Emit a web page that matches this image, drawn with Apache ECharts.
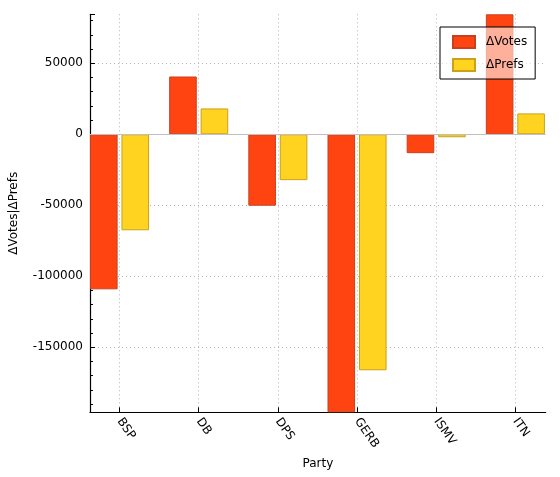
<!DOCTYPE html>
<html>
<head>
<meta charset="utf-8">
<script src="https://cdn.jsdelivr.net/npm/echarts@6/dist/echarts.min.js"></script>
<style>
    html, body { margin: 0; padding: 0; background: #fff; }
    #chart { width: 560px; height: 477px; }
</style>
</head>
<body>
<div id="chart"></div>
<script>
// parties on the x axis
const parties = ['BSP', 'DB', 'DPS', 'GERB', 'ISMV', 'ITN'];
// change in votes / change in preference votes
const dVotes = [-109200, 40700, -50300, -195800, -13300, 84500];
const dPrefs = [-67600, 18200, -32300, -166200, -2100, 14700];
const partyIdx = [0, 1, 2, 3, 4, 5];

const FONT = 'DejaVu Sans';
const dotted = { color: '#b4b4b4', width: 1, type: [1, 3] };

const chart = echarts.init(document.getElementById('chart'));

const option = {
    animation: false,
    backgroundColor: '#fff',
    textStyle: { fontFamily: FONT, fontSize: 12, color: '#000' },
    grid: {
        left: 88.7,
        right: 14.3,
        top: 14.3,
        bottom: 64.7,
        containLabel: false
    },
    legend: {
        orient: 'vertical',
        left: 440,
        top: 27,
        padding: [8, 8, 7, 12],
        itemWidth: 22,
        itemHeight: 12,
        itemGap: 9,
        backgroundColor: 'rgba(255,255,255,0.58)',
        borderColor: '#000',
        borderWidth: 1,
        borderRadius: 0,
        icon: 'rect',
        textStyle: { fontFamily: FONT, fontSize: 12, color: '#000', padding: [0, 0, 0, 6] },
        data: ['ΔVotes', 'ΔPrefs']
    },
    xAxis: {
        type: 'value',
        min: -0.373,
        max: 5.383,
        name: 'Party',
        nameLocation: 'middle',
        nameGap: 42,
        nameTextStyle: { fontFamily: FONT, fontSize: 12, color: '#000' },
        axisLine: { onZero: false, lineStyle: { color: '#000', width: 1.2 } },
        axisTick: { inside: true, length: 5, customValues: partyIdx, lineStyle: { color: '#000' } },
        axisLabel: {
            customValues: partyIdx,
            rotate: -55,
            margin: 7,
            fontFamily: FONT,
            fontSize: 12,
            color: '#000',
            formatter: function (v) {
                return parties[Math.round(v)];
            }
        },
        splitLine: { show: true, lineStyle: dotted }
    },
    yAxis: {
        type: 'value',
        min: 'dataMin',
        max: 'dataMax',
        name: 'ΔVotes|ΔPrefs',
        nameLocation: 'middle',
        nameGap: 70,
        nameRotate: 90,
        nameTextStyle: { fontFamily: FONT, fontSize: 12, color: '#000' },
        axisLine: { show: true, onZero: false, lineStyle: { color: '#000', width: 1.2 } },
        axisTick: { inside: true, length: 5, lineStyle: { color: '#000' } },
        minorTick: { show: true, splitNumber: 5, length: 3, lineStyle: { color: '#000' } },
        axisLabel: {
            margin: 7,
            showMinLabel: false,
            showMaxLabel: false,
            fontFamily: FONT,
            fontSize: 12,
            color: '#000',
            formatter: function (v) {
                return String(v);
            }
        },
        splitLine: { show: true, showMinLine: false, showMaxLine: false, lineStyle: dotted }
    },
    series: [
        {
            name: 'ΔVotes',
            type: 'bar',
            data: partyIdx.map(i => [i, dVotes[i]]),
            barWidth: 27.6,
            barGap: '14%',
            itemStyle: { color: '#ff4412', borderColor: '#c8401e', borderWidth: 1 },
            markLine: {
                silent: true,
                symbol: 'none',
                label: { show: false },
                lineStyle: { color: '#c0c0c0', type: 'solid', width: 1.2 },
                data: [{ yAxis: 0 }]
            }
        },
        {
            name: 'ΔPrefs',
            type: 'bar',
            data: partyIdx.map(i => [i, dPrefs[i]]),
            barWidth: 27.6,
            barGap: '14%',
            itemStyle: { color: '#ffd320', borderColor: '#c9a21b', borderWidth: 1 }
        }
    ]
};

chart.setOption(option);
</script>
</body>
</html>
